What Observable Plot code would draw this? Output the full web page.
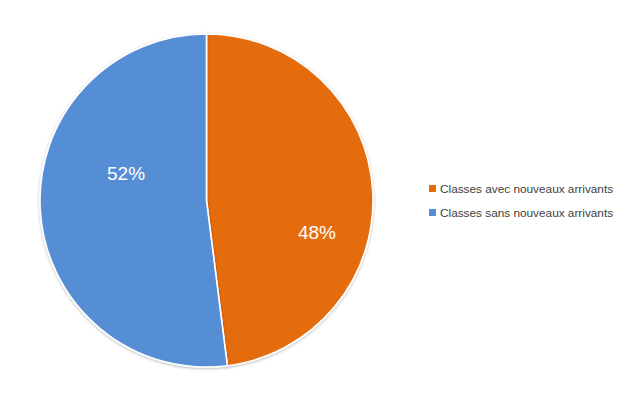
<!DOCTYPE html>
<html><head><meta charset="utf-8">
<script src="https://cdn.jsdelivr.net/npm/d3@7"></script>
<script src="https://cdn.jsdelivr.net/npm/@observablehq/plot@0.6"></script>
<style>
html,body{margin:0;padding:0;background:#fff;}
#chart{position:relative;width:623px;height:403px;overflow:hidden;}
#legend{position:absolute;left:429px;top:176.5px;}
#legend .lg-swatch{padding-bottom:0 !important;height:24px;margin:0;}
#legend .lg-swatch svg{margin-right:4px !important;}
</style></head><body><div id="chart"></div>
<script>
// ---- data ----
const categories = ["Classes avec nouveaux arrivants", "Classes sans nouveaux arrivants"];
const values = [48, 52];
const valueLabels = ["48%", "52%"];
const colors = ["#E46C0A", "#558ED5"];

// ---- layout ----
const W = 623, H = 403;
const cx = 206.5, cy = 200.5, R = 166.5;
// Excel-like label placement: angular shift (deg) and radius fraction per slice
const labelPlacement = [{dA: 19.6, r: 0.69}, {dA: 22.3, r: 0.51}];

function pieMark(index, scales) {
  const color = scales && scales.color ? scales.color : d3.scaleOrdinal(categories, colors);
  const arcs = d3.pie().sort(null).value(d => d)(values);
  const arc = d3.arc().innerRadius(0).outerRadius(R);
  const g = d3.create("svg:g");
  const defs = g.append("defs");
  const f = defs.append("filter").attr("id", "shadow").attr("x", "-10%").attr("y", "-10%").attr("width", "120%").attr("height", "120%");
  f.append("feDropShadow").attr("dx", 0).attr("dy", 1).attr("stdDeviation", 1.4)
    .attr("flood-color", "#000").attr("flood-opacity", 0.28);
  const pg = g.append("g").attr("transform", `translate(${cx},${cy})`);
  pg.selectAll("path").data(arcs).join("path")
    .attr("d", arc)
    .attr("fill", (d, i) => color(categories[i]))
    .attr("stroke", "#fff")
    .attr("stroke-width", 1.6)
    .attr("stroke-linejoin", "round")
    .attr("filter", "url(#shadow)");
  pg.selectAll("text").data(arcs).join("text")
    .attr("transform", (d, i) => {
      const p = labelPlacement[i];
      const a = (d.startAngle + d.endAngle) / 2 + p.dA * Math.PI / 180;
      const r = p.r * R;
      return `translate(${r * Math.sin(a)},${-r * Math.cos(a)})`;
    })
    .attr("text-anchor", "middle")
    .attr("dy", "0.36em")
    .attr("fill", "#fff")
    .attr("font-family", "'Liberation Sans', Arial, sans-serif")
    .attr("font-size", 19)
    .text((d, i) => valueLabels[i]);
  return g.node();
}

const plot = Plot.plot({
  width: W,
  height: H,
  margin: 0,
  color: {domain: categories, range: colors},
  marks: [pieMark]
});
const chart = document.getElementById("chart");
chart.appendChild(plot);

const legend = Plot.legend({
  color: {domain: categories, range: colors},
  legend: "swatches",
  columns: 1,
  swatchSize: 7,
  className: "lg",
  style: {fontFamily: "'Liberation Sans', Arial, sans-serif", fontSize: "11.8px", color: "#404040", margin: 0}
});
const wrap = document.createElement("div");
wrap.id = "legend";
wrap.appendChild(legend);
chart.appendChild(wrap);
</script>
</body></html>
